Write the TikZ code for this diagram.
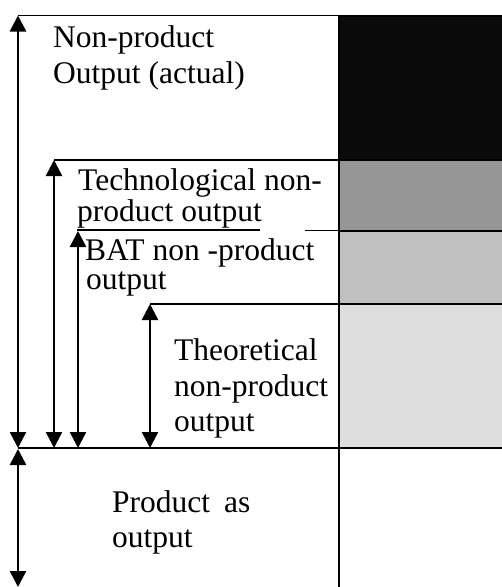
\documentclass[tikz,border=0pt]{standalone}
\usepackage{fontspec}
\setmainfont{Liberation Serif}
\usetikzlibrary{arrows.meta}
\definecolor{bandA}{RGB}{10,10,10}
\definecolor{bandB}{RGB}{150,150,150}
\definecolor{bandC}{RGB}{192,192,192}
\definecolor{bandD}{RGB}{221,221,221}
\begin{document}
\begin{tikzpicture}[x=1pt,y=-1pt,
  lbl/.style={anchor=base west,inner sep=0pt,font=\fontsize{31.5}{36}\selectfont},
  rule/.style={line width=1.5pt},
  dimarrow/.style={line width=2.6pt,{Triangle[width=16pt,length=16pt]}-{Triangle[width=16pt,length=16pt]}},
  bandbox/.style={draw=black,line width=2pt}]
\useasboundingbox (0,0) rectangle (502,587);
\fill[white] (0,0) rectangle (502,587);
% column of bands
\path[bandbox,fill=bandA] (339,15.5) rectangle (505,160);
\path[bandbox,fill=bandB] (339,160) rectangle (505,231);
\path[bandbox,fill=bandC] (339,231) rectangle (505,304);
\path[bandbox,fill=bandD] (339,304) rectangle (505,448);
\path[bandbox,fill=white] (339,448) rectangle (505,592);
% coordinates
\coordinate (topL) at (18,15.5);
\coordinate (topR) at (339,15.5);
\coordinate (techL) at (54,160);
\coordinate (techR) at (339,160);
\coordinate (batL) at (77,230);
\coordinate (batM) at (260,230);
\coordinate (batN) at (305,230.5);
\coordinate (batR) at (339,230.5);
\coordinate (theoL) at (150,304);
\coordinate (theoR) at (339,304);
\coordinate (baseL) at (18,448);
\coordinate (baseR) at (505,448);
\coordinate (baseT) at (54,448);
\coordinate (baseB) at (78,448);
\coordinate (baseTh) at (150,448);
\coordinate (botL) at (18,587);
\coordinate (batA) at (78,231);
\coordinate (prodT) at (18,449);
% horizontal rules
\draw[rule] (topL) -- (topR);
\draw[rule] (techL) -- (techR);
\draw[rule] (batL) -- (batM);
\draw[rule] (batN) -- (batR);
\draw[rule] (theoL) -- (theoR);
\draw[rule] (baseL) -- (baseR);
% dimension arrows
\draw[dimarrow] (topL) -- (baseL);
\draw[dimarrow] (techL) -- (baseT);
\draw[dimarrow] (batA) -- (baseB);
\draw[dimarrow] (theoL) -- (baseTh);
\draw[dimarrow] (prodT) -- (botL);
% labels
\node[lbl] (np1) at (53,47) {Non-product};
\node[lbl] (np2) at (53,83) {Output (actual)};
\node[lbl] (tn1) at (78,190) {Technological non-};
\node[lbl] (tn2) at (77,221) {product output};
\node[lbl] (bn1) at (85,260) {BAT non -product};
\node[lbl] (bn2) at (86,289) {output};
\node[lbl] (th1) at (174,360) {Theoretical};
\node[lbl] (th2) at (174,396) {non-product};
\node[lbl] (th3) at (174,431) {output};
\node[lbl] (pr1) at (112,512) {Product\hspace{14pt}as};
\node[lbl] (pr2) at (112,547) {output};
\end{tikzpicture}
\end{document}
